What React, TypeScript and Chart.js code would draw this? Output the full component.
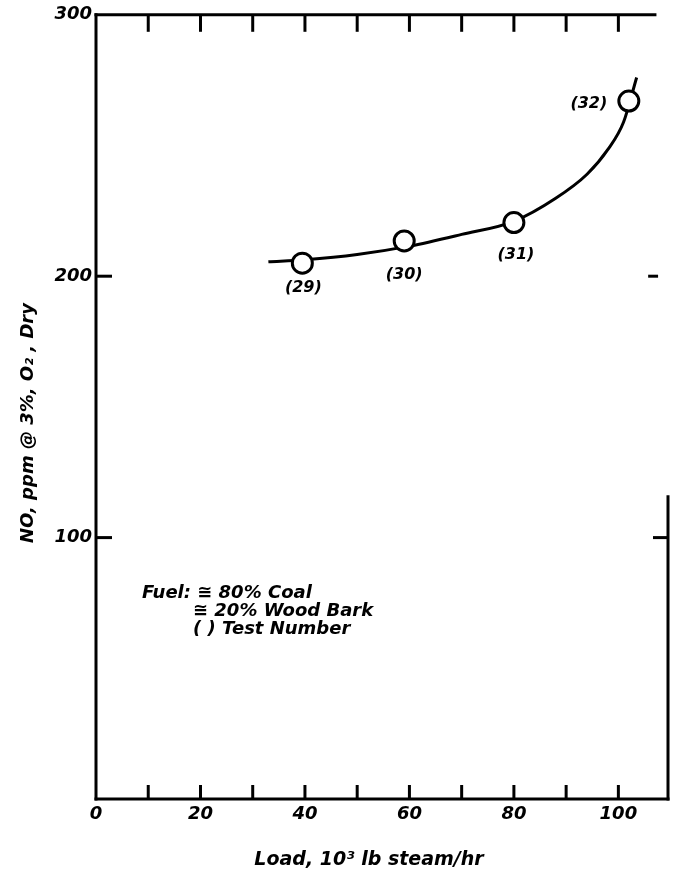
import React, { useEffect, useRef } from 'react';
import { Chart, registerables } from 'chart.js';

Chart.register(...registerables);

// ---- data ----
const loadValues = [39.5, 59, 80, 102];
const noValues = [205, 213.5, 220.5, 267];
const testNumbers = ['(29)', '(30)', '(31)', '(32)'];
const curveLoad = [33, 40, 50, 60, 70, 80, 88, 94, 98, 101, 103.5];
const curveNo = [205.5, 206.3, 208.3, 211.5, 216, 221, 229.8, 239, 248.5, 259, 276];
const xTickLabels = [0, 20, 40, 60, 80, 100];
const xTickMarks = [10, 20, 30, 40, 50, 60, 70, 80, 90, 100];
const yTickLabels = [100, 200, 300];
const yTickMarks = [100, 200];
const legendLines = ['Fuel: \u2245 80% Coal', '\u2245 20% Wood Bark', '( ) Test Number'];
const xTitle = 'Load, 10\u00B3 lb steam/hr';
const yTitle = 'NO, ppm @ 3%, O\u2082 , Dry';

// ---- layout / style constants ----
const X_MIN = 0;
const X_MAX = 109.5;
const Y_MIN = 0;
const Y_MAX = 300;
const TOP_LINE_END = 107;
const RIGHT_LINE_TOP = 115.6;
const FAMILY = '"DejaVu Sans", sans-serif';
const labelOffsets = [
  [1, 25],
  [0, 34],
  [2, 32],
  [-40, 3],
];

const framePlugin = {
  id: 'frame',
  beforeDatasetsDraw(chart: any) {
    const ctx = chart.ctx;
    const xs = chart.scales.x;
    const ys = chart.scales.y;
    const X = (v: number) => xs.getPixelForValue(v);
    const Y = (v: number) => ys.getPixelForValue(v);
    ctx.save();
    ctx.strokeStyle = '#000';
    ctx.lineWidth = 3;
    ctx.lineCap = 'square';
    const seg = (x1: number, y1: number, x2: number, y2: number) => {
      ctx.beginPath();
      ctx.moveTo(x1, y1);
      ctx.lineTo(x2, y2);
      ctx.stroke();
    };
    seg(X(0), Y(Y_MAX), X(0), Y(0));
    seg(X(0), Y(0), X(X_MAX), Y(0));
    seg(X(0), Y(Y_MAX), X(TOP_LINE_END), Y(Y_MAX));
    seg(X(X_MAX), Y(RIGHT_LINE_TOP), X(X_MAX), Y(0));
    ctx.lineCap = 'butt';
    xTickMarks.forEach((v) => {
      seg(X(v), Y(Y_MAX), X(v), Y(Y_MAX) + 17);
      seg(X(v), Y(0), X(v), Y(0) - 14);
    });
    yTickMarks.forEach((v) => {
      seg(X(0), Y(v), X(0) + 16, Y(v));
    });
    seg(X(X_MAX), Y(100), X(X_MAX) - 15, Y(100));
    seg(X(105.7), Y(200), X(107.6), Y(200));
    ctx.restore();
  },
  afterDraw(chart: any) {
    const ctx = chart.ctx;
    const xs = chart.scales.x;
    const ys = chart.scales.y;
    ctx.save();
    ctx.fillStyle = '#000';
    ctx.textAlign = 'center';
    ctx.textBaseline = 'middle';
    ctx.font = `italic bold 16px ${FAMILY}`;
    testNumbers.forEach((t, i) => {
      const px = xs.getPixelForValue(loadValues[i]) + labelOffsets[i][0];
      const py = ys.getPixelForValue(noValues[i]) + labelOffsets[i][1];
      ctx.fillText(t, px, py);
    });
    ctx.textAlign = 'left';
    ctx.font = `italic bold 18px ${FAMILY}`;
    ctx.fillText(legendLines[0], 142, 593);
    ctx.fillText(legendLines[1], 193, 611);
    ctx.fillText(legendLines[2], 193, 629);
    ctx.textAlign = 'center';
    ctx.font = `italic bold 19px ${FAMILY}`;
    ctx.fillText(xTitle, 369, 860);
    ctx.font = `italic bold 18px ${FAMILY}`;
    ctx.translate(28, 423);
    ctx.rotate(-Math.PI / 2);
    ctx.fillText(yTitle, 0, 0);
    ctx.restore();
  },
};

export default function App() {
  const ref = useRef<HTMLCanvasElement | null>(null);
  useEffect(() => {
    document.body.style.margin = '0';
    const canvas = ref.current;
    if (!canvas) return;
    const tickFont = { family: FAMILY, size: 18, style: 'italic' as const, weight: 'bold' as const };
    const chart = new Chart(canvas, {
      type: 'scatter',
      data: {
        datasets: [
          {
            label: 'Tests',
            data: loadValues.map((x, i) => ({ x, y: noValues[i] })),
            pointRadius: 10,
            pointBorderWidth: 3,
            pointBackgroundColor: '#fff',
            pointBorderColor: '#000',
            showLine: false,
            order: 0,
          },
          {
            label: 'Fit',
            data: curveLoad.map((x, i) => ({ x, y: curveNo[i] })),
            showLine: true,
            borderColor: '#000',
            borderWidth: 3,
            pointRadius: 0,
            cubicInterpolationMode: 'monotone',
            order: 1,
          } as any,
        ],
      },
      options: {
        animation: false,
        responsive: false,
        devicePixelRatio: 1,
        layout: { padding: { top: 13, right: 9, left: 0, bottom: 0 } },
        plugins: { legend: { display: false }, tooltip: { enabled: false } },
        scales: {
          x: {
            type: 'linear',
            position: 'bottom',
            min: X_MIN,
            max: X_MAX,
            grid: { display: false, drawTicks: false },
            border: { display: false },
            ticks: { color: '#000', font: tickFont, padding: 5, maxRotation: 0, autoSkip: false },
            afterBuildTicks: (s: any) => {
              s.ticks = xTickLabels.map((v) => ({ value: v }));
            },
            afterFit: (s: any) => {
              s.height = 75;
            },
          },
          y: {
            type: 'linear',
            position: 'left',
            min: Y_MIN,
            max: Y_MAX,
            grid: { display: false, drawTicks: false },
            border: { display: false },
            ticks: { color: '#000', font: tickFont, padding: 4, autoSkip: false },
            afterBuildTicks: (s: any) => {
              s.ticks = yTickLabels.map((v) => ({ value: v }));
            },
            afterFit: (s: any) => {
              s.width = 96;
            },
          },
        },
      },
      plugins: [framePlugin],
    });
    return () => chart.destroy();
  }, []);
  return (
    <div style={{ width: 681, height: 874 }}>
      <canvas ref={ref} width={681} height={874} style={{ display: 'block' }} />
    </div>
  );
}
